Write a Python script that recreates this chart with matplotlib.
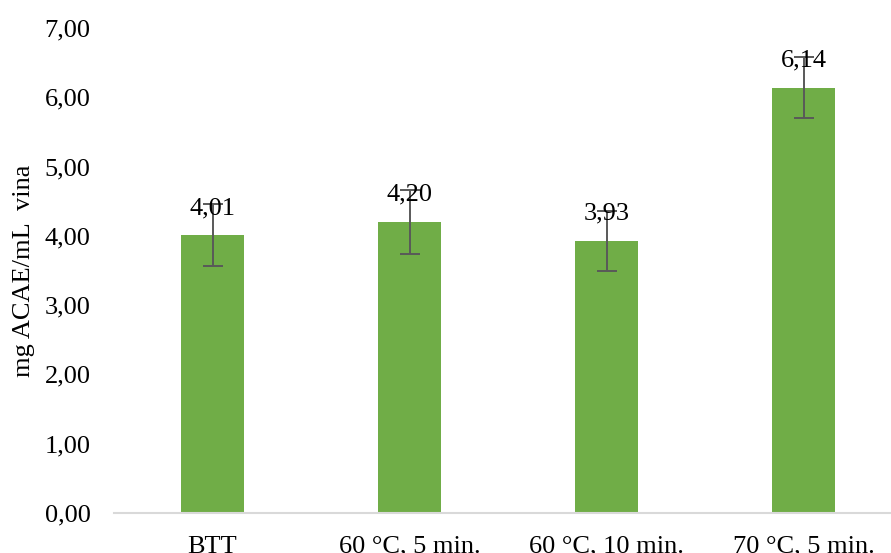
import matplotlib
matplotlib.use("Agg")
import matplotlib.pyplot as plt
from matplotlib.ticker import FuncFormatter

categories = ["BTT", "60 °C, 5 min.", "60 °C, 10 min.", "70 °C, 5 min."]
values = [4.01, 4.20, 3.93, 6.14]
errors = [0.45, 0.46, 0.43, 0.44]
yticks = [0, 1, 2, 3, 4, 5, 6, 7]

plt.rcParams['font.family'] = ['Liberation Serif', 'DejaVu Serif']

fig = plt.figure(figsize=(8.91, 5.53), dpi=100)
ax = fig.add_axes([114/891, 40/553, (902-114)/891, (513-28)/553])

x = list(range(len(categories)))
ax.bar(x, values, width=0.315, color="#70ad47", zorder=2)
ax.errorbar(x, values, yerr=errors, fmt="none", ecolor="#595959",
            elinewidth=1.4, capsize=7, capthick=1.4, zorder=3)
for xi, v in zip(x, values):
    ax.annotate(f"{v:.2f}".replace(".", ","), (xi, v), xytext=(0, 19.5),
                textcoords="offset points", ha="center", va="center",
                fontsize=19, color="black", zorder=4)

ax.set_xlim(-0.5, len(categories) - 0.5)
ax.set_ylim(0, 7)
ax.set_yticks(yticks)
ax.yaxis.set_major_formatter(FuncFormatter(lambda v, p: f"{v:.2f}".replace(".", ",")))
ax.set_xticks(x)
ax.set_xticklabels(categories)
ax.tick_params(axis="both", length=0, labelsize=19, colors="black")
ax.tick_params(axis="x", pad=16.5)
ax.tick_params(axis="y", pad=17)
for s in ["top", "right", "left"]:
    ax.spines[s].set_visible(False)
ax.spines["bottom"].set_color("#d9d9d9")
ax.spines["bottom"].set_linewidth(1.5)
ax.set_ylabel("mg ACAE/mL  vina", fontsize=19)
ax.yaxis.set_label_coords((35 - 114) / 788, 0.5)

fig.savefig("out.png", dpi=100)
